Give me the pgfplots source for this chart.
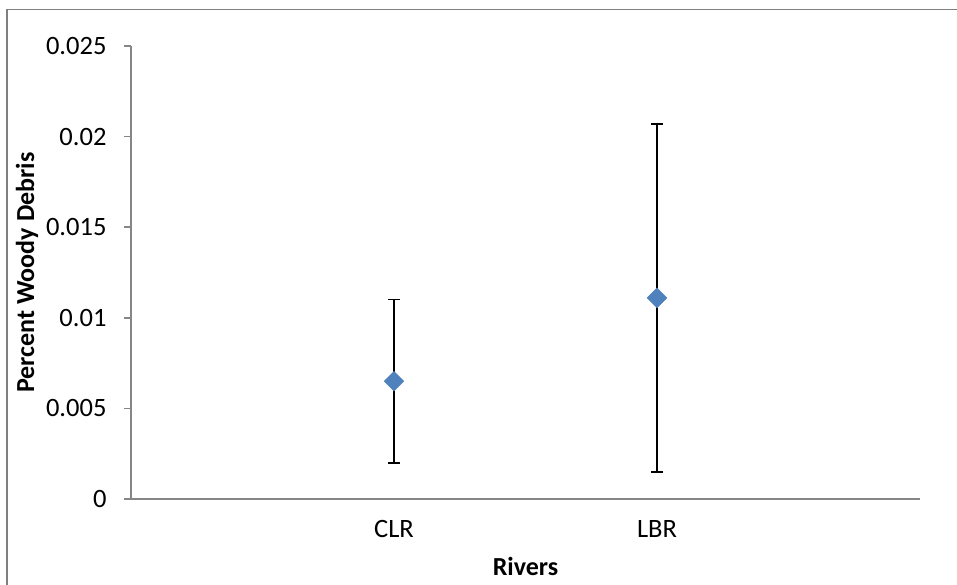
\documentclass[border=0pt]{standalone}
\usepackage{pgfplots}
\pgfplotsset{compat=1.18}
\usepackage{fontspec}
\setmainfont{Carlito}
\definecolor{axgray}{HTML}{868686}
\definecolor{framegray}{HTML}{7F7F7F}
\definecolor{xlblue}{HTML}{4F81BD}
\begin{document}
\begin{tikzpicture}[x=1bp,y=1bp]
\useasboundingbox (0,0) rectangle (957,585);
\draw[color=framegray, line width=1.8bp] (7,-5) -- (7,575.5) -- (962,575.5);
\begin{axis}[
  at={(131bp,86bp)}, anchor=south west,
  scale only axis, width=789bp, height=453bp,
  xmin=0, xmax=3, ymin=0, ymax=0.025,
  axis x line*=bottom, axis y line*=left,
  axis line style={axgray, line width=1.5bp},
  xtick={1,2}, xticklabels={CLR,LBR},
  ytick={0,0.005,0.01,0.015,0.02,0.025},
  yticklabels={0,0.005,0.01,0.015,0.02,0.025},
  scaled y ticks=false,
  tick align=outside,
  x tick style={draw=none},
  y tick style={axgray, line width=1.5bp},
  major tick length=7bp,
  tick label style={font=\fontsize{26.5bp}{31bp}\selectfont},
  yticklabel style={anchor=east, xshift=-14bp},
  xticklabel style={anchor=north, yshift=-11bp},
  xlabel={\textbf{Rivers}},
  ylabel={\textbf{Percent Woody Debris}},
  label style={font=\fontsize{26bp}{31bp}\selectfont},
  xlabel style={at={(axis description cs:0.5,0)}, anchor=base, yshift=-77bp},
  ylabel style={at={(axis description cs:-0.1318,0.5)}, anchor=center},
  clip=false,
]
\addplot[only marks, mark=square*, mark size=7bp,
  mark options={rotate=45, fill=xlblue, draw=xlblue},
  error bars/.cd, y dir=both, y explicit, error mark=|,
  error bar style={black, line width=1.6bp},
  error mark options={black, line width=1.6bp, mark size=6bp}]
  coordinates {(1,0.0065) +- (0,0.0045) (2,0.0111) +- (0,0.0096)};
\end{axis}
\end{tikzpicture}
\end{document}
